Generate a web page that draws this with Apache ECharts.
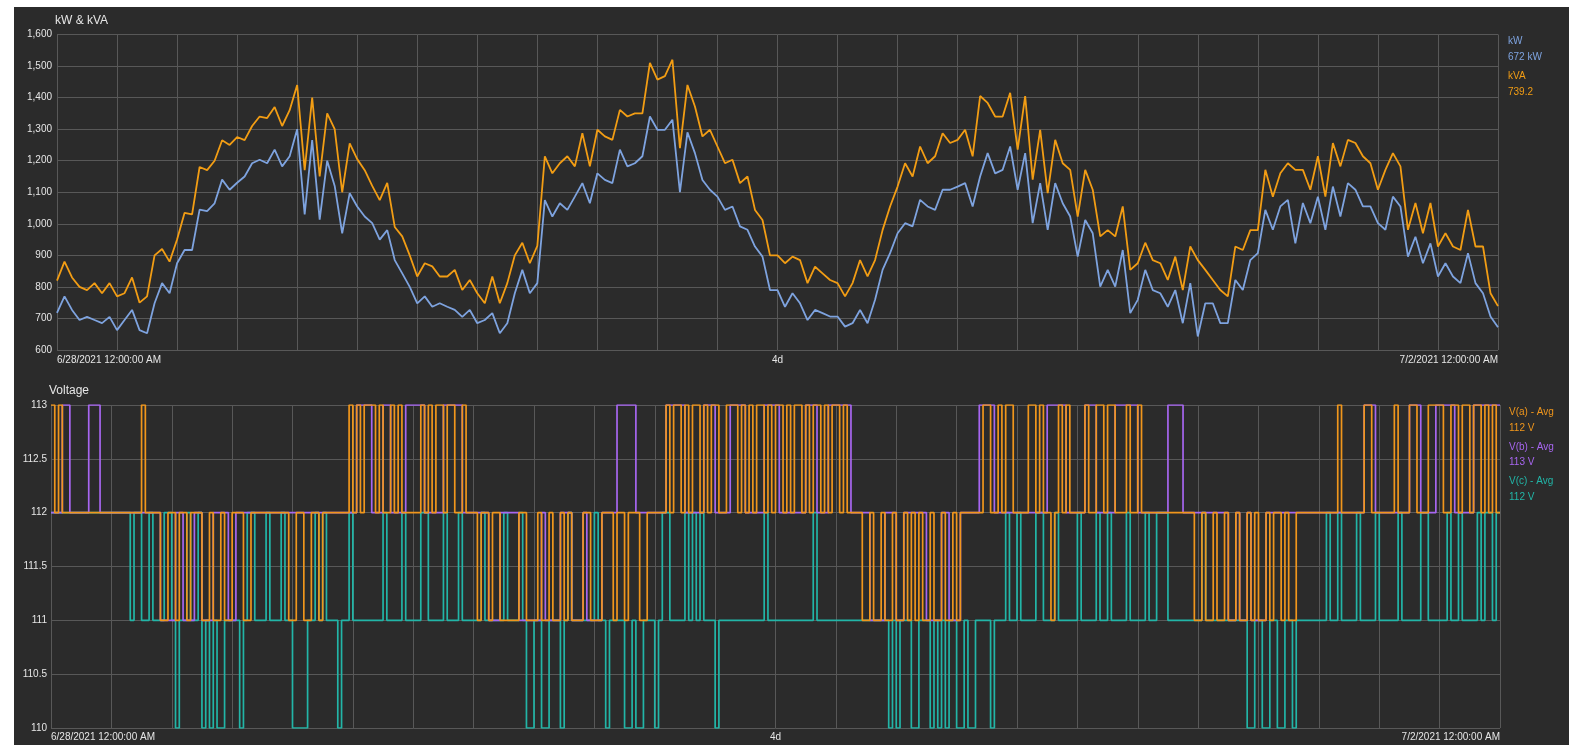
<!DOCTYPE html>
<html>
<head>
<meta charset="utf-8">
<script src="https://cdn.jsdelivr.net/npm/echarts@6/dist/echarts.min.js"></script>
<style>
  html, body { margin:0; padding:0; background:#ffffff; }
  #panel { position:absolute; left:14px; top:7px; width:1555px; height:738px; background:#2b2b2b; }
  #chart { position:absolute; left:0; top:0; width:1578px; height:745px; }
</style>
</head>
<body>
<div id="panel"></div>
<div id="chart"></div>
<script>
// ---- time axis (hours since 6/28/2021 12:00:00 AM) ----
const X_MIN = 0, X_MAX = 96, X_INTERVAL = 4;
const X_LABELS = { 0: '6/28/2021 12:00:00 AM', 48: '4d', 96: '7/2/2021 12:00:00 AM' };
const POWER_STEP_H = 0.5;    // sample spacing of kW / kVA (hours)
const VOLT_STEP_H = 0.25;    // sample spacing of voltages (hours)

// ---- top panel: kW & kVA ----
const POWER_TITLE = 'kW & kVA';
const POWER_Y = { min: 600, max: 1600, interval: 100 };
const kVA = [
  820,880,830,800,790,812,780,812,770,780,830,750,770,900,920,880,950,1035,1030,1180,1170,1200,1265,1250,
  1275,1265,1310,1340,1335,1370,1310,1360,1440,1170,1400,1150,1350,1300,1100,1255,1205,1170,1120,1075,1130,990,960,900,
  833,875,865,833,833,854,790,822,780,748,833,748,812,900,940,875,930,1214,1160,1192,1214,1182,1287,1182,
  1298,1277,1266,1361,1340,1350,1350,1510,1457,1468,1520,1240,1440,1372,1277,1298,1245,1192,1203,1129,1150,1044,1012,900,
  900,875,896,885,812,864,843,822,812,770,812,885,833,885,980,1055,1118,1192,1150,1245,1192,1214,1287,1256,
  1266,1298,1214,1405,1383,1340,1340,1415,1235,1405,1140,1298,1097,1266,1192,1171,1023,1171,1108,960,980,960,1055,854,
  875,940,885,875,822,896,790,928,885,854,822,790,770,928,917,980,980,1171,1086,1160,1192,1171,1171,1108,
  1214,1086,1256,1182,1266,1256,1214,1192,1108,1171,1224,1182,981,1066,970,1066,928,970,928,917,1044,928,928,780,
  739.2
];
const kW = [
  718,770,727,695,705,695,685,705,663,695,727,663,653,748,812,780,875,917,917,1045,1040,1065,1140,1108,
  1130,1150,1192,1203,1192,1235,1182,1214,1300,1030,1265,1013,1200,1120,970,1097,1055,1023,1002,950,980,885,843,800,
  748,770,737,748,737,727,705,727,685,695,717,653,685,780,854,780,812,1075,1023,1065,1044,1086,1129,1065,
  1160,1139,1129,1235,1182,1192,1214,1340,1298,1298,1330,1100,1290,1224,1139,1108,1086,1044,1055,992,981,928,896,790,
  790,737,780,748,695,727,717,706,706,674,685,727,685,759,854,907,970,1002,992,1076,1055,1044,1108,1108,
  1118,1129,1055,1150,1224,1160,1171,1245,1108,1224,1002,1129,981,1129,1065,1023,896,1012,970,801,854,801,917,717,
  759,854,790,780,737,790,685,812,643,748,748,685,685,822,790,885,907,1044,981,1055,1076,938,1066,1002,
  1086,981,1118,1023,1129,1108,1055,1055,1002,981,1086,1055,896,959,875,938,833,875,833,812,907,812,780,706,
  672
];

// ---- bottom panel: Voltage ----
const VOLT_TITLE = 'Voltage';
const VOLT_Y = { min: 110, max: 113, interval: 0.5 };
const Va = [
  113,112,113,112, 112,112,112,112, 112,112,112,112, 112,112,112,112, 112,112,112,112, 112,112,112,112, 113,112,112,112, 112,111,111,112,
  112,111,112,112, 111,112,112,112, 111,111,112,111, 111,112,111,111, 112,112,112,111, 111,112,112,112, 112,112,112,112, 112,112,112,111,
  111,112,112,111, 111,112,112,111, 112,112,112,112, 112,112,112,113, 112,113,112,113, 113,113,112,113, 112,112,113,112, 113,112,112,112,
  112,112,113,112, 113,112,113,113, 112,113,113,112, 112,113,112,112, 112,111,112,112, 111,112,112,111, 111,111,111,111, 112,112,111,111,
  111,112,111,111, 112,111,111,112, 111,112,111,111, 111,112,112,111, 111,111,112,112, 112,111,112,112, 111,112,112,112, 111,111,112,112,
  112,112,112,113, 112,113,113,112, 113,112,113,113, 112,113,112,113, 113,112,112,113, 113,113,112,113, 112,113,112,113, 113,112,113,112,
  113,113,112,113, 112,113,113,112, 113,112,113,113, 112,113,112,113, 113,112,113,112, 112,112,112,111, 111,112,111,111, 112,111,111,112,
  111,111,112,111, 112,111,112,111, 111,112,111,111, 112,111,111,112, 111,112,112,112, 112,112,112,113, 113,112,112,113, 112,113,113,112,
  112,112,112,113, 113,112,113,112, 112,111,112,113, 112,113,112,112, 112,112,113,112, 112,113,113,112, 113,113,112,112, 112,113,112,112,
  113,112,112,112, 112,112,112,112, 112,112,112,112, 112,112,112,111, 111,112,111,111, 112,111,111,112, 111,111,112,111, 111,112,111,112,
  111,111,112,111, 112,112,111,112, 111,111,112,112, 112,112,112,112, 112,112,112,112, 112,113,112,112, 112,112,112,112, 113,113,112,112,
  112,112,112,112, 113,112,112,112, 113,113,112,112, 112,113,113,113, 113,112,112,113, 113,112,113,113, 112,113,113,112, 113,112,113,112,
  112
];
const Vb = [
  112,112,112,113, 113,112,112,112, 112,112,113,113, 113,112,112,112, 112,112,112,112, 112,112,112,112, 112,112,112,112, 112,111,111,111,
  111,112,112,111, 111,111,112,112, 111,111,111,112, 112,112,112,111, 111,112,112,112, 112,112,112,112, 112,112,112,112, 112,112,112,112,
  112,112,112,112, 112,112,112,112, 112,112,112,112, 112,112,112,112, 112,113,113,113, 113,112,112,112, 113,113,112,112, 112,112,113,113,
  113,113,113,112, 112,112,112,112, 113,113,113,113, 113,112,112,112, 112,112,112,112, 111,111,111,112, 112,112,112,112, 111,111,111,111,
  111,111,112,111, 111,111,111,112, 112,112,111,111, 111,112,111,111, 111,111,112,112, 112,112,113,113, 113,113,113,112, 112,112,112,112,
  112,112,112,113, 113,113,113,113, 112,112,112,112, 112,113,113,113, 112,112,112,112, 113,113,113,113, 112,112,112,112, 112,113,113,113,
  113,112,112,112, 112,112,112,112, 113,113,113,112, 112,112,113,113, 113,113,113,113, 112,112,112,112, 112,111,111,111, 111,112,112,112,
  111,111,112,112, 112,112,112,112, 111,111,111,111, 112,112,111,111, 111,112,112,112, 112,112,113,113, 113,113,112,112, 112,112,112,112,
  112,112,112,112, 112,112,112,112, 113,113,113,113, 113,112,112,112, 112,112,113,113, 113,112,112,112, 112,112,113,113, 113,113,113,113,
  112,112,112,112, 112,112,112,112, 113,113,113,113, 112,112,112,112, 112,112,112,112, 112,112,112,112, 111,111,112,111, 111,112,111,111,
  111,111,112,112, 112,112,112,112, 112,112,112,112, 112,112,112,112, 112,112,112,112, 112,112,112,112, 112,112,112,112, 113,113,113,112,
  112,112,112,112, 112,112,112,112, 113,113,113,112, 112,112,112,113, 113,113,113,113, 112,112,112,112, 112,113,113,113, 113,113,113,113,
  113
];
const Vc = [
  112,112,112,112, 112,112,112,112, 112,112,112,112, 112,112,112,112, 112,112,112,112, 112,111,112,112, 111,111,112,111, 111,111,112,112,
  111,110,111,111, 112,111,111,112, 110,111,110,111, 110,110,111,111, 111,111,110,111, 112,112,111,111, 111,112,111,111, 111,112,111,111,
  110,110,110,110, 111,111,112,111, 112,111,111,111, 110,111,111,112, 111,111,111,111, 111,111,111,111, 112,111,111,111, 111,112,111,111,
  111,111,112,112, 111,111,111,111, 112,111,111,111, 112,111,111,111, 111,111,112,111, 111,111,111,111, 112,111,111,111, 112,111,110,110,
  111,111,110,110, 111,111,111,110, 111,112,111,111, 111,111,111,111, 112,111,111,110, 111,111,111,111, 110,110,111,110, 110,111,111,111,
  110,111,112,112, 111,111,111,111, 112,111,112,111, 112,111,111,111, 110,111,111,111, 111,111,111,111, 111,111,111,111, 111,112,111,111,
  111,111,111,111, 111,111,111,111, 111,111,112,111, 111,111,111,111, 111,111,111,111, 111,111,111,111, 111,111,111,111, 111,111,110,111,
  110,111,111,111, 110,110,111,111, 111,110,111,110, 111,110,111,111, 110,110,111,110, 110,111,111,111, 111,110,111,111, 111,112,111,111,
  112,111,111,111, 111,112,112,111, 111,111,112,111, 111,111,111,111, 112,111,111,111, 111,112,111,111, 112,111,111,111, 111,112,111,111,
  111,111,112,111, 111,112,112,112, 111,111,111,111, 111,111,111,111, 111,112,111,111, 111,111,111,111, 111,111,111,111, 111,110,110,111,
  111,110,110,111, 111,110,110,111, 111,110,111,111, 111,111,111,111, 111,111,112,111, 111,112,111,111, 111,111,112,111, 111,111,111,112,
  111,111,111,111, 111,112,111,111, 111,111,111,112, 112,111,111,111, 111,111,112,111, 111,112,111,111, 111,111,112,111, 112,112,111,112,
  112
];

// ---- styling ----
const C_KW = '#7ea3df', C_KVA = '#f29d14';
const C_VA = '#f0961c', C_VB = '#a766f0', C_VC = '#22b5a7';
const GRID_C = '#585858', TEXT_C = '#e6e6e6';
const FONT = 'Arial, "Liberation Sans", sans-serif';

const pairs = (arr, step) => arr.map((v, i) => [i * step, v]);
const last = arr => arr[arr.length - 1];

function xAxis(gridIndex, margin) {
  return {
    type: 'value', gridIndex, min: X_MIN, max: X_MAX, interval: X_INTERVAL,
    axisLine: { show: false }, axisTick: { show: false },
    splitLine: { show: true, lineStyle: { color: GRID_C, width: 1 } },
    axisLabel: {
      color: TEXT_C, fontSize: 10, fontFamily: FONT, margin,
      showMinLabel: true, showMaxLabel: true,
      alignMinLabel: 'left', alignMaxLabel: 'right',
      formatter: v => X_LABELS[v] || ''
    }
  };
}
function yAxis(gridIndex, cfg, fmt, margin) {
  return {
    type: 'value', gridIndex, min: cfg.min, max: cfg.max, interval: cfg.interval,
    axisLine: { show: false }, axisTick: { show: false },
    splitLine: { show: true, lineStyle: { color: GRID_C, width: 1 } },
    axisLabel: { color: TEXT_C, fontSize: 10, fontFamily: FONT, margin, formatter: fmt }
  };
}
function line(name, data, step, color, xi, width, extra) {
  return Object.assign({
    name, type: 'line', xAxisIndex: xi, yAxisIndex: xi,
    data: pairs(data, step), showSymbol: false, symbol: 'none',
    lineStyle: { color, width }, itemStyle: { color },
    animation: false
  }, extra || {});
}
function legendText(x, y, text, color) {
  return { type: 'text', left: x, top: y, style: { text, fill: color, font: '10px ' + FONT } };
}

const chart = echarts.init(document.getElementById('chart'), null, { renderer: 'canvas' });
chart.setOption({
  backgroundColor: 'transparent',
  animation: false,
  title: [
    { text: POWER_TITLE, left: 55, top: 15, padding: 0, textStyle: { color: TEXT_C, fontSize: 12, fontWeight: 'normal', fontFamily: FONT } },
    { text: VOLT_TITLE, left: 49, top: 385, padding: 0, textStyle: { color: TEXT_C, fontSize: 12, fontWeight: 'normal', fontFamily: FONT } }
  ],
  grid: [
    { left: 57, right: 80, top: 34.5, height: 315.5 },
    { left: 51, right: 78, top: 405, height: 323 }
  ],
  xAxis: [xAxis(0, 5), xAxis(1, 4)],
  yAxis: [
    yAxis(0, POWER_Y, v => v.toLocaleString('en-US'), 5),
    yAxis(1, VOLT_Y, v => String(v), 4)
  ],
  series: [
    line('kW', kW, POWER_STEP_H, C_KW, 0, 1.8),
    line('kVA', kVA, POWER_STEP_H, C_KVA, 0, 1.8),
    line('V(c) - Avg', Vc, VOLT_STEP_H, C_VC, 1, 1.7, { step: 'end' }),
    line('V(b) - Avg', Vb, VOLT_STEP_H, C_VB, 1, 1.7, { step: 'end' }),
    line('V(a) - Avg', Va, VOLT_STEP_H, C_VA, 1, 1.7, { step: 'end' })
  ],
  graphic: [
    legendText(1508, 36, 'kW', C_KW),
    legendText(1508, 52, last(kW) + ' kW', C_KW),
    legendText(1508, 71, 'kVA', C_KVA),
    legendText(1508, 87, String(last(kVA)), C_KVA),
    legendText(1509, 407, 'V(a) - Avg', C_VA),
    legendText(1509, 423, last(Va) + ' V', C_VA),
    legendText(1509, 442, 'V(b) - Avg', C_VB),
    legendText(1509, 457, last(Vb) + ' V', C_VB),
    legendText(1509, 476, 'V(c) - Avg', C_VC),
    legendText(1509, 492, last(Vc) + ' V', C_VC)
  ]
});
</script>
</body>
</html>
